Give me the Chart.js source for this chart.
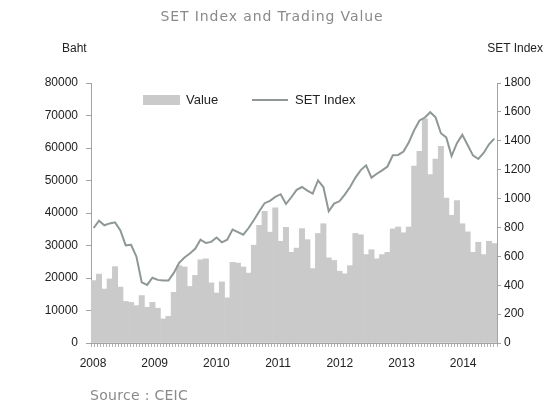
<!DOCTYPE html>
<html>
<head>
<meta charset="utf-8">
<script src="https://cdn.jsdelivr.net/npm/chart.js@4.4.1/dist/chart.umd.min.js"></script>
<style>
  html, body { margin: 0; padding: 0; background: #fff; }
  #wrap { position: relative; width: 544px; height: 407px; }
  #wrap canvas { position: absolute; left: 0; top: 0; }
  .txt { position: absolute; white-space: nowrap; }
  .title { left: 0; width: 544px; top: 8px; text-align: center; letter-spacing: 0.9px;
           font: 14px "DejaVu Sans", sans-serif; color: #8a8a8a; }
  .axis-t { top: 41px; font: 12px "Liberation Sans", Arial, sans-serif; color: #222; }
  .leg { top: 92px; font: 13px "Liberation Sans", Arial, sans-serif; color: #222; }
  .src { left: 90px; top: 387px; font: 14px "DejaVu Sans", sans-serif; letter-spacing: 0.3px; color: #8a8a8a; }
</style>
</head>
<body>
<div id="wrap">
  <canvas id="setChart" width="544" height="407"></canvas>
  <div class="txt title">SET Index and Trading Value</div>
  <div class="txt axis-t" style="left:62px">Baht</div>
  <div class="txt axis-t" style="right:1px">SET Index</div>
  <div class="txt" id="legBox" style="left:143px;top:95px;width:37px;height:10px"></div>
  <div class="txt leg" style="left:186px">Value</div>
  <div class="txt" id="legLine" style="left:252px;top:99px;width:36px;height:2px"></div>
  <div class="txt leg" style="left:295px">SET Index</div>
  <div class="txt src">Source : CEIC</div>
</div>
<script>
'use strict';

// ── Data: monthly, Jan 2008 – Apr 2014 ─────────
const YEARS = [2008, 2009, 2010, 2011, 2012, 2013, 2014];

// trading value (Baht, millions)
const VALUE = [
  19200, 21200, 16600, 19700, 23500, 17200, 12800, 12500, 11500, 14600, 11000, 12500,
  10700,  7400,  8200, 15600, 23800, 23400, 17400, 20800, 25600, 25900, 18500, 15400,
  18800, 13900, 24800, 24600, 23400, 21500, 30100, 36200, 40500, 34100, 41600, 31300,
  35600, 27900, 29200, 35200, 31800, 22900, 33700, 36700, 26200, 25400, 22100, 21300,
  23800, 33700, 33300, 27200, 28700, 25900, 27200, 27900, 35100, 35700, 33900, 35700,
  54400, 59000, 69000, 51800, 56600, 60500, 44600, 39300, 43800, 36700, 34200, 27900,
  31000, 27200, 31300, 30600
];

// SET index, month end
const SET_INDEX = [
   796,  847,  815,  828,  835,  780,  676,  680,  598,  420,  402,  452,
   437,  432,  432,  485,  555,  592,  620,  652,  715,  692,  700,  730,
   697,  715,  785,  768,  750,  796,  852,  912,  968,  984, 1011, 1030,
   962, 1009, 1060, 1080, 1055, 1034, 1126, 1080,  912,  965,  981, 1027,
  1080, 1145, 1197, 1230, 1145, 1172, 1195, 1222, 1300, 1302, 1325, 1390,
  1474, 1541, 1561, 1598, 1562, 1452, 1423, 1294, 1383, 1441, 1371, 1299,
  1274, 1316, 1376, 1415
];

const BAR_COL  = '#cacaca';
const LINE_COL = '#8f9797';
const AXIS_COL = '#a3a3a3';
const TICK_FONT = { family: '"Liberation Sans", Arial, sans-serif', size: 12 };

document.getElementById('legBox').style.background = BAR_COL;
document.getElementById('legLine').style.background = LINE_COL;

// bars and line sit at month centres on a linear axis
const valuePts = VALUE.map((v, i) => ({ x: i + 0.5, y: v }));
const setPts   = SET_INDEX.map((v, i) => ({ x: i + 0.5, y: v }));

const fixWidth  = w => scale => { scale.width = w; };
const fixHeight = h => scale => { scale.height = h; };

new Chart(document.getElementById('setChart'), {
  data: {
    datasets: [
      {
        type: 'line',
        label: 'SET Index',
        data: setPts,
        xAxisID: 'x',
        yAxisID: 'y1',
        borderColor: LINE_COL,
        borderWidth: 2,
        pointRadius: 0,
        tension: 0,
        order: 0
      },
      {
        type: 'bar',
        label: 'Value',
        data: valuePts,
        xAxisID: 'x',
        yAxisID: 'y',
        backgroundColor: BAR_COL,
        borderWidth: 0,
        barPercentage: 1,
        categoryPercentage: 1,
        order: 1
      }
    ]
  },
  options: {
    responsive: false,
    animation: false,
    layout: { padding: { left: 44, right: 7, top: 83, bottom: 34 } },
    plugins: { legend: { display: false }, tooltip: { enabled: false } },
    scales: {
      x: {
        type: 'linear', min: 0, max: VALUE.length,
        offset: false,
        display: false
      },
      // small tick marks along the bottom
      tk: {
        type: 'linear', position: 'bottom', weight: 0,
        min: 0, max: 135, offset: false,
        ticks: { display: false, stepSize: 1, autoSkip: false },
        grid: { drawOnChartArea: false, drawTicks: true, tickLength: 4, color: '#b3b3b3' },
        border: { display: true, color: AXIS_COL },
        afterFit: fixHeight(6)
      },
      // year labels
      yr: {
        type: 'linear', position: 'bottom', weight: 1,
        min: 2007.968, max: 2014.548, offset: false,
        ticks: {
          stepSize: 1, includeBounds: false, padding: 7,
          font: TICK_FONT, color: '#222',
          callback: v => (Number.isInteger(v) && YEARS.includes(v)) ? String(v) : ''
        },
        grid: { display: false, drawTicks: false },
        border: { display: false },
        afterFit: fixHeight(24)
      },
      y: {
        position: 'left',
        min: 0, max: 80000,
        ticks: { stepSize: 10000, padding: 8, font: TICK_FONT, color: '#222', callback: v => String(v) },
        grid: { drawOnChartArea: false, tickLength: 5, color: AXIS_COL },
        border: { color: AXIS_COL },
        afterFit: fixWidth(47)
      },
      y1: {
        position: 'right',
        min: 0, max: 1800,
        ticks: { stepSize: 200, padding: 3, font: TICK_FONT, color: '#222', callback: v => String(v) },
        grid: { drawOnChartArea: false, tickLength: 4, color: AXIS_COL },
        border: { color: AXIS_COL },
        afterFit: fixWidth(40)
      }
    }
  }
});
</script>
</body>
</html>
